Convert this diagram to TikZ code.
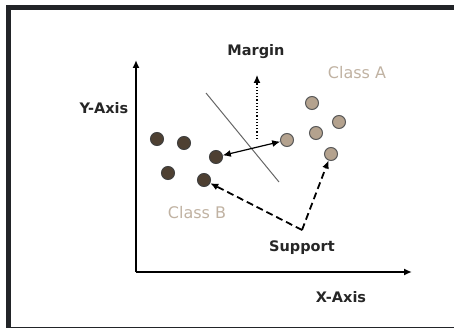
\documentclass[tikz,border=0pt]{standalone}
\usepackage{fontspec}
\setmainfont{DejaVu Sans}
\usetikzlibrary{calc,arrows.meta}
\definecolor{framecol}{RGB}{34,36,40}
\definecolor{dotb}{RGB}{78,64,50}
\definecolor{dota}{RGB}{180,162,142}
\definecolor{classtxt}{RGB}{192,178,162}
\begin{document}
\begin{tikzpicture}[x=1pt,y=-1pt,>={Latex[length=8pt,width=7pt]},
    classb/.style={circle,draw=black!75,fill=dotb,line width=1pt,minimum size=13pt,inner sep=0pt},
    classa/.style={circle,draw=black!65,fill=dota,line width=1pt,minimum size=13pt,inner sep=0pt},
    axislabel/.style={font=\fontsize{14.5}{16}\selectfont\bfseries,text=black!85},
    classlabel/.style={font=\fontsize{16}{18}\selectfont,text=classtxt}]
    \useasboundingbox (0,0) rectangle (454,328);
    \draw[framecol,line width=5pt](8,7.5) rectangle (470,329.5);
    \begin{scope}
      % axes
      \coordinate (o) at (136,272);
      \coordinate (ytip) at (136,60);
      \coordinate (xtip) at (412,272);
      \draw[line width=2pt,->](o)--(ytip);
      \draw[line width=2pt,->](o)--(xtip);
      \node[axislabel] (ylab) at (104,108) {Y-Axis};
      \node[axislabel] (xlab) at (341,297) {X-Axis};
      % class B
      \node[classb] (b1) at (157,139) {};
      \node[classb] (b2) at (184,143) {};
      \node[classb] (b3) at (216,157) {};
      \node[classb] (b4) at (168,173) {};
      \node[classb] (b5) at (204,180) {};
      % class A
      \node[classa] (a1) at (287,140) {};
      \node[classa] (a2) at (312,103) {};
      \node[classa] (a3) at (339,122) {};
      \node[classa] (a4) at (316,133) {};
      \node[classa] (a5) at (331,154) {};
      \node[classlabel] (lab a) at (357,73) {Class A};
      \node[classlabel] (lab b) at (197,213) {Class B};
      % separating line and margin
      \coordinate (h1) at (206,93);
      \coordinate (h2) at (279,182);
      \draw[black!60,line width=1pt](h1)--(h2);
      \coordinate (m0) at (257,139);
      \coordinate (m1) at (257,75);
      \draw[dotted,line width=1.2pt,->](m0)--(m1);
      \node[axislabel] (margin) at (256,52) {Margin};
      \draw[line width=1.2pt,<->](b3)--(a1);
      % support vectors
      \coordinate (s) at (302,230);
      \draw[dash pattern=on 7pt off 4pt,line width=1.8pt,->](s)--(b5);
      \draw[dash pattern=on 7pt off 4pt,line width=1.8pt,->](s)--(a5);
      \node[axislabel] (support) at (302,248) {Support};
    \end{scope}
  \end{tikzpicture}
\end{document}
